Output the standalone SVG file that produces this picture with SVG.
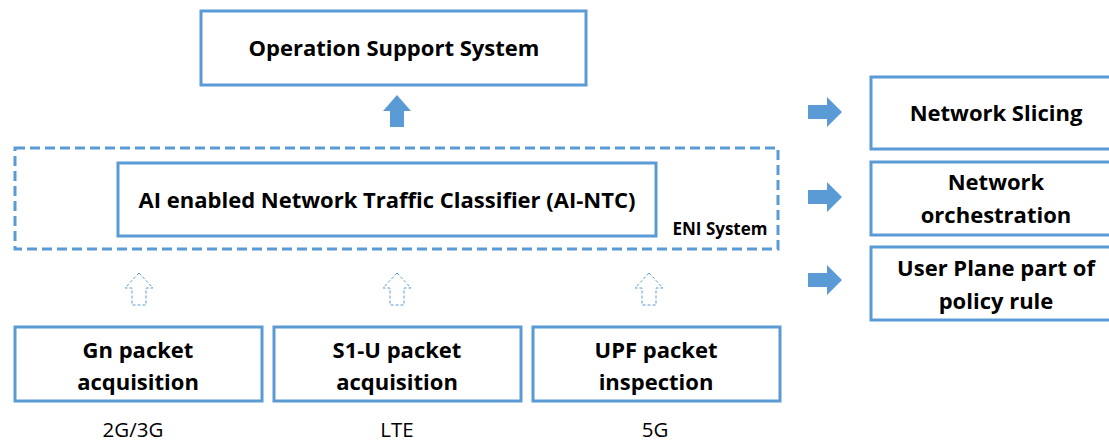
<svg xmlns="http://www.w3.org/2000/svg" width="1109" height="441" viewBox="0 0 1109 441">
<style>
.box{fill:#fff;stroke:#5B9BD5;stroke-width:3}
.dash{fill:none;stroke:#5B9BD5;stroke-width:3;stroke-dasharray:10 5}
.t{font-family:"Open Sans","Liberation Sans",sans-serif;font-weight:bold;fill:#000;text-anchor:middle;font-size:22px}
.r{font-family:"Open Sans","Liberation Sans",sans-serif;fill:#000;text-anchor:middle;font-size:20.5px}
.solid{fill:#5B9BD5}
.hollow{fill:none;stroke:#5B9BD5;stroke-width:1;stroke-dasharray:3 2}
</style>
<rect width="1109" height="441" fill="#fff"/>
<g id="oss"><rect class="box" x="201" y="11" width="385" height="74"/><text class="t" x="394" y="56">Operation Support System</text></g>
<g id="eni"><rect class="dash" x="15" y="148" width="763" height="101"/><text class="t" x="720" y="235" style="font-size:17px">ENI System</text></g>
<g id="ai-ntc"><rect class="box" x="118" y="163" width="538" height="73"/><text class="t" x="387" y="208">AI enabled Network Traffic Classifier (AI-NTC)</text></g>
<g id="slicing"><rect class="box" x="871" y="77" width="250" height="72"/><text class="t" x="996" y="121">Network Slicing</text></g>
<g id="orch"><rect class="box" x="871" y="162" width="250" height="73"/><text class="t" x="996" y="190">Network</text><text class="t" x="996" y="223">orchestration</text></g>
<g id="upr"><rect class="box" x="871" y="247" width="250" height="73"/><text class="t" x="996" y="276">User Plane part of</text><text class="t" x="996" y="309">policy rule</text></g>
<g id="gn"><rect class="box" x="15" y="327" width="247" height="74"/><text class="t" x="138" y="358">Gn packet</text><text class="t" x="138" y="390">acquisition</text></g>
<g id="s1u"><rect class="box" x="274" y="327" width="247" height="74"/><text class="t" x="397" y="358">S1-U packet</text><text class="t" x="397" y="390">acquisition</text></g>
<g id="upf"><rect class="box" x="533" y="327" width="247" height="74"/><text class="t" x="656" y="358">UPF packet</text><text class="t" x="656" y="390">inspection</text></g>
<g id="labels"><text class="r" x="133" y="437">2G/3G</text><text class="r" x="397" y="437">LTE</text><text class="r" x="655" y="437">5G</text></g>
<g id="connectors">
<path class="solid" d="M397 95 L411 111 L404 111 L404 127 L390 127 L390 111 L383 111 Z"/>
<path class="solid" d="M842 112 L827 97 L827 105 L808 105 L808 119 L827 119 L827 127 Z"/>
<path class="solid" d="M842 197 L827 182 L827 190 L808 190 L808 204 L827 204 L827 212 Z"/>
<path class="solid" d="M842 280 L827 265 L827 273 L808 273 L808 287 L827 287 L827 295 Z"/>
<path class="hollow" d="M139 273 L153 288 L146 288 L146 305 L132 305 L132 288 L125 288 Z"/>
<path class="hollow" d="M397 273 L411 288 L404 288 L404 305 L390 305 L390 288 L383 288 Z"/>
<path class="hollow" d="M649 273 L663 288 L656 288 L656 305 L642 305 L642 288 L635 288 Z"/>
</g>
</svg>
